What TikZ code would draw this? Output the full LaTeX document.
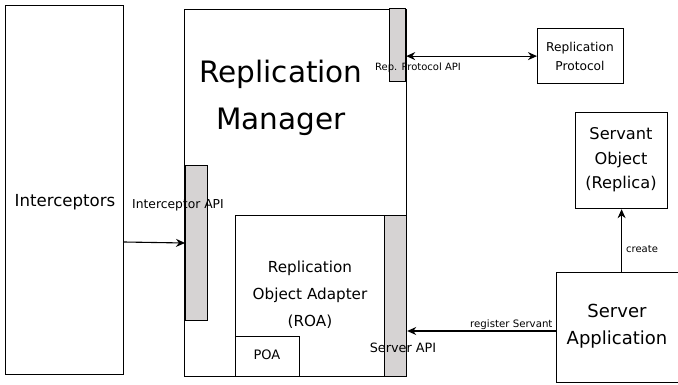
\documentclass[tikz,border=0pt]{standalone}
\usepackage{fontspec}
\setmainfont{DejaVu Sans}
\usetikzlibrary{arrows.meta}
\definecolor{bargray}{HTML}{D6D3D3}
\tikzset{
  box/.style={draw=black, line width=1.2pt, fill=white, inner sep=0pt, anchor=north west},
  bar/.style={draw=black, line width=1.2pt, fill=bargray, inner sep=0pt, anchor=north west},
  lbl/.style={inner sep=0pt, align=center},
  arr/.style={line width=1.1pt, -{Stealth[length=9pt,width=8pt]}},
  darr/.style={line width=1.1pt, {Stealth[length=9pt,width=8pt]}-{Stealth[length=9pt,width=8pt]}},
}
\begin{document}
\begin{tikzpicture}[x=1pt,y=-1pt]
\useasboundingbox (0,0) rectangle (678,384);
% Interceptors
\node[box, minimum width=118pt, minimum height=369pt] (icp) at (5,5) {};
\node[lbl, font=\fontsize{16.6}{19}\selectfont] (icpt) at (65,202) {Interceptors};
% Replication Manager
\node[box, minimum width=222pt, minimum height=367pt] (rm) at (184,9) {};
\node[lbl, font=\fontsize{29.5}{47}\selectfont] (rmt) at (281,98) {Replication\\Manager};
% Rep protocol API bar
\node[bar, minimum width=16pt, minimum height=73pt] (rapi) at (389,8) {};
\node[lbl, font=\fontsize{10}{11}\selectfont] (rapit) at (418,68) {Rep. Protocol API};
% Interceptor API bar
\node[bar, minimum width=22pt, minimum height=155pt] (iapi) at (185,165) {};
\node[lbl, font=\fontsize{12.3}{14}\selectfont] (iapit) at (178,205) {Interceptor API};
% ROA
\node[box, minimum width=150pt, minimum height=161pt] (roa) at (235,215) {};
\node[lbl, font=\fontsize{15.2}{27}\selectfont] (roat) at (310,295) {Replication\\Object Adapter\\(ROA)};
% Server API bar
\node[bar, minimum width=22pt, minimum height=161pt] (sapi) at (384,215) {};
\node[lbl, font=\fontsize{12.8}{15}\selectfont] (sapit) at (403,348) {Server API};
% POA
\node[box, minimum width=64pt, minimum height=40pt] (poa) at (235,336) {};
\node[lbl, font=\fontsize{13}{15}\selectfont] (poat) at (267,355) {POA};
% Replication Protocol
\node[box, minimum width=86pt, minimum height=55pt] (rp) at (537,28) {};
\node[lbl, font=\fontsize{12.2}{19}\selectfont] (rpt) at (580,56) {Replication\\Protocol};
% Servant Object
\node[box, minimum width=92pt, minimum height=96pt] (so) at (575,112) {};
\node[lbl, font=\fontsize{16.2}{24.5}\selectfont] (sot) at (621,160) {Servant\\Object\\(Replica)};
% Server Application
\node[box, minimum width=122pt, minimum height=110pt] (sa) at (556,272) {};
\node[lbl, font=\fontsize{18}{27}\selectfont] (sat) at (617,326) {Server\\Application};
% connectors
\draw[arr] (icp.east |- 0,242) -- (iapi.west |- 0,243);
\draw[darr] (rp.west -| rapi.east) -- (rp.west);
\draw[arr] (sa.north -| so.south) -- node[right=4pt, pos=0.36, font=\fontsize{10}{12}\selectfont, inner sep=0pt] (cl) {create} (so.south);
\draw[arr] (sa.west |- 0,331) -- node[above=1pt, pos=0.3, font=\fontsize{10.2}{12}\selectfont, inner sep=0pt] (rsl) {register Servant} (sapi.east |- 0,331);
\end{tikzpicture}
\end{document}
